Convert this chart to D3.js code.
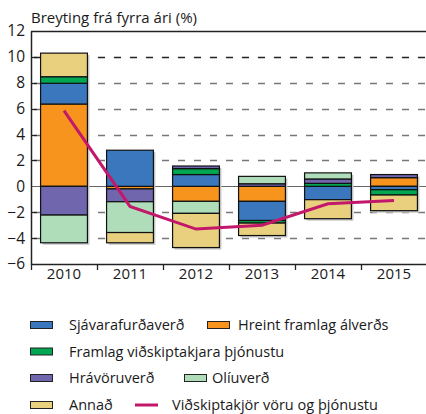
<!DOCTYPE html>
<html>
<head>
<meta charset="utf-8">
<script src="https://cdn.jsdelivr.net/npm/d3@7"></script>
<style>
	body { margin: 0; background: #fff; }
	text { font-family: "Open Sans", sans-serif; fill: #1a1a1a; }
</style>
</head>
<body>
<div id="chart"></div>
<script>
// years on the x axis
const years = ['2010', '2011', '2012', '2013', '2014', '2015'];

// contributions, % (stack order bottom-up)
const alverd = [6.36, -0.2, -1.16, -1.16, 0, 0.67];
const sjavarafurdir = [1.6, 2.79, 0.91, -1.48, -1.03, -0.26];
const thjonusta = [0.51, 0, 0.46, -0.2, 0.23, -0.41];
const hravorur = [-2.22, -0.99, 0.2, 0.2, 0.34, 0.24];
const oliuverd = [-2.14, -2.38, -0.93, 0.57, 0.47, 0];
const annad = [1.82, -0.79, -2.64, -0.96, -1.47, -1.21];

// terms of trade line
const vidskiptakjor = [5.85, -1.55, -3.3, -3.0, -1.35, -1.1];

const yTicks = [12, 10, 8, 6, 4, 2, 0, -2, -4, -6];
const gridTicks = [10, 8, 6, 4, 2, -2, -4];

const series = [
	{ key: 'alverd', name: 'Hreint framlag álverðs', color: '#f7941d', values: alverd },
	{ key: 'sjavar', name: 'Sjávarafurðaverð', color: '#3a77bd', values: sjavarafurdir },
	{ key: 'thjon', name: 'Framlag viðskiptakjara þjónustu', color: '#00a651', values: thjonusta },
	{ key: 'hrav', name: 'Hrávöruverð', color: '#7066ae', values: hravorur },
	{ key: 'oliu', name: 'Olíuverð', color: '#b0ddb9', values: oliuverd },
	{ key: 'annad', name: 'Annað', color: '#e8d07e', values: annad }
];
const lineColor = '#c2176b';

const width = 426;
const height = 414;
const margin = { top: 31, left: 31, right: -1, bottom: 150 };

const svg = d3.select('#chart')
	.append('svg')
	.attr('width', width)
	.attr('height', height);

const x = d3.scaleBand()
	.domain(years)
	.range([margin.left, width - margin.right])
	.paddingInner(0.29)
	.paddingOuter(0.145);

const xOuter = d3.scaleBand()
	.domain(years)
	.range([margin.left, width - margin.right]);

const y = d3.scaleLinear()
	.domain([-6, 12])
	.range([264, margin.top]);

// build table for stacking
const table = years.map((yr, i) => {
	const row = { year: yr };
	series.forEach((s) => { row[s.key] = s.values[i]; });
	return row;
});

const stack = d3.stack()
	.keys(series.map((s) => s.key))
	.offset(d3.stackOffsetDiverging);

const stacked = stack(table);

// grid
svg.append('g')
	.selectAll('line')
	.data(gridTicks)
	.join('line')
	.attr('x1', margin.left + 1)
	.attr('x2', width)
	.attr('y1', (d) => Math.round(y(d)) + 0.5)
	.attr('y2', (d) => Math.round(y(d)) + 0.5)
	.attr('stroke', (d) => d === 10 ? '#222' : '#777')
	.attr('stroke-width', 1.3)
	.attr('stroke-dasharray', '7,9')
	.attr('stroke-dashoffset', -2);

// zero line
svg.append('line')
	.attr('x1', margin.left)
	.attr('x2', width)
	.attr('y1', Math.round(y(0)) + 0.5)
	.attr('y2', Math.round(y(0)) + 0.5)
	.attr('stroke', '#666')
	.attr('stroke-width', 1);

// bar shadows
const extents = years.map((yr, i) => {
	let lo = 0;
	let hi = 0;
	stacked.forEach((s) => {
		lo = Math.min(lo, s[i][0], s[i][1]);
		hi = Math.max(hi, s[i][0], s[i][1]);
	});
	return { year: yr, lo, hi };
});

svg.append('g')
	.selectAll('rect')
	.data(extents)
	.join('rect')
	.attr('x', (d) => x(d.year) + 2)
	.attr('y', (d) => y(d.hi) + 2)
	.attr('width', x.bandwidth())
	.attr('height', (d) => y(d.lo) - y(d.hi))
	.attr('fill', '#c8c8c8');

// stacked bars
const layer = svg.append('g')
	.selectAll('g')
	.data(stacked)
	.join('g')
	.attr('fill', (d, i) => series[i].color);

layer.selectAll('rect')
	.data((d) => d.map((v) => ({ year: v.data.year, y0: v[0], y1: v[1] }))
		.filter((v) => v.y0 !== v.y1))
	.join('rect')
	.attr('x', (d) => x(d.year))
	.attr('y', (d) => y(Math.max(d.y0, d.y1)))
	.attr('width', x.bandwidth())
	.attr('height', (d) => Math.abs(y(d.y0) - y(d.y1)))
	.attr('stroke', '#111')
	.attr('stroke-width', 1.2);

// line
const line = d3.line()
	.x((d, i) => xOuter(years[i]) + xOuter.bandwidth() / 2)
	.y((d) => y(d));

svg.append('path')
	.datum(vidskiptakjor)
	.attr('d', line)
	.attr('fill', 'none')
	.attr('stroke', lineColor)
	.attr('stroke-width', 3);

// frame: top and left
svg.append('line')
	.attr('x1', margin.left)
	.attr('x2', width)
	.attr('y1', margin.top + 0.5)
	.attr('y2', margin.top + 0.5)
	.attr('stroke', '#222')
	.attr('stroke-width', 1.5);

// y axis
const yAxis = svg.append('g')
	.attr('transform', `translate(${margin.left},0)`)
	.call(d3.axisLeft(y).tickValues(yTicks).tickSize(0).tickPadding(6).tickFormat(d3.format('d')));
yAxis.select('.domain').attr('stroke', '#222').attr('stroke-width', 1.5);
yAxis.selectAll('text')
	.attr('font-size', 15.5)
	.attr('font-family', '"Open Sans", sans-serif')
	.attr('fill', '#1a1a1a');

// short inner ticks on the y axis
svg.append('g')
	.selectAll('line')
	.data(yTicks.filter((d) => d !== 12 && d !== -6 && d !== 0))
	.join('line')
	.attr('x1', margin.left)
	.attr('x2', margin.left + 6)
	.attr('y1', (d) => Math.round(y(d)) + 0.5)
	.attr('y2', (d) => Math.round(y(d)) + 0.5)
	.attr('stroke', '#222')
	.attr('stroke-width', 1.3);

// x axis
const xAxis = svg.append('g')
	.attr('transform', `translate(0,${y(-6)})`)
	.call(d3.axisBottom(xOuter).tickSize(0).tickPadding(4));
xAxis.select('.domain').attr('stroke', '#222').attr('stroke-width', 1.5);
xAxis.selectAll('text')
	.attr('font-size', 15)
	.attr('font-family', '"Open Sans", sans-serif')
	.attr('fill', '#1a1a1a');

// category separator ticks
svg.append('g')
	.selectAll('line')
	.data(years)
	.join('line')
	.attr('x1', (d) => xOuter(d) + 0.5)
	.attr('x2', (d) => xOuter(d) + 0.5)
	.attr('y1', y(-6))
	.attr('y2', y(-6) + 6)
	.attr('stroke', '#222')
	.attr('stroke-width', 1.3);

// title
svg.append('text')
	.attr('x', margin.left)
	.attr('y', 23)
	.attr('font-size', 15)
	.text('Breyting frá fyrra ári (%)');

// legend
const legendRows = [
	[{ s: 'sjavar', x: 30 }, { s: 'alverd', x: 207 }],
	[{ s: 'thjon', x: 30 }],
	[{ s: 'hrav', x: 30 }, { s: 'oliu', x: 184 }],
	[{ s: 'annad', x: 30 }, { s: 'line', x: 135 }]
];
const rowY = [325, 351.5, 378, 405];

const legend = svg.append('g');
legendRows.forEach((row, ri) => {
	row.forEach((item) => {
		const cy = rowY[ri];
		if (item.s === 'line') {
			legend.append('line')
				.attr('x1', item.x)
				.attr('x2', item.x + 23)
				.attr('y1', cy)
				.attr('y2', cy)
				.attr('stroke', lineColor)
				.attr('stroke-width', 3);
			legend.append('text')
				.attr('x', item.x + 37)
				.attr('y', cy)
				.attr('dy', '0.35em')
				.attr('font-size', 14.5)
				.text('Viðskiptakjör vöru og þjónustu');
			return;
		}
		const s = series.find((d) => d.key === item.s);
		legend.append('rect')
			.attr('x', item.x + 0.5)
			.attr('y', cy - 3.5)
			.attr('width', 22)
			.attr('height', 7)
			.attr('fill', s.color)
			.attr('stroke', '#222')
			.attr('stroke-width', 1);
		legend.append('text')
			.attr('x', item.x + 39 - (item.s === 'oliu' ? 11 : 0) - (item.s === 'alverd' ? 8 : 0))
			.attr('y', cy)
			.attr('dy', '0.35em')
			.attr('font-size', 14.5)
			.text(s.name);
	});
});
</script>
</body>
</html>
